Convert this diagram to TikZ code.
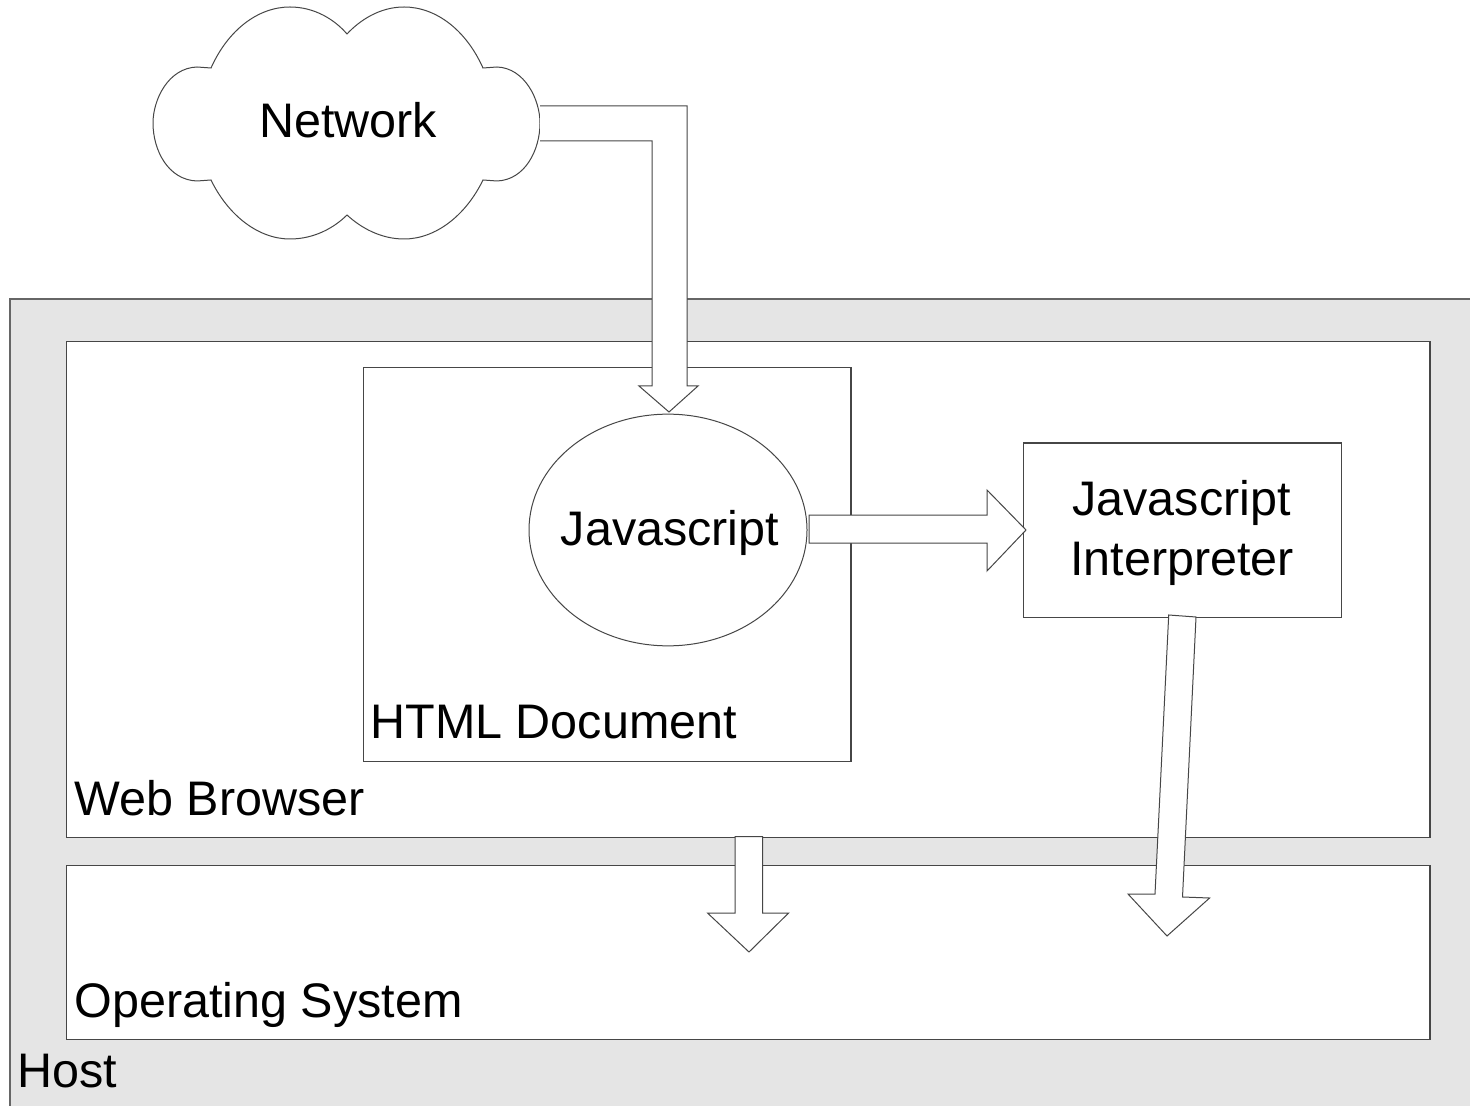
\documentclass[tikz,border=0pt]{standalone}
\usepackage{fontspec}
\setmainfont{Liberation Sans}
\usetikzlibrary{shapes.geometric}
\definecolor{hostgray}{RGB}{229,229,229}
\definecolor{edge}{RGB}{70,70,70}
\begin{document}
\begin{tikzpicture}[x=0.5pt,y=-0.5pt,
  container/.style={draw=edge, line width=0.7pt, anchor=north west, inner sep=0pt},
  whitebox/.style={container, fill=white},
  blockarrow/.style={draw=edge, line width=0.5pt, fill=white, line join=miter},
  lbl/.style={inner sep=0pt, font=\fontsize{24.25pt}{30pt}\selectfont},
]
\useasboundingbox (0,0) rectangle (1470,1106);
\clip (0,0) rectangle (1470,1106);

% Host
\node[container, fill=hostgray, draw=black!60, line width=1pt,
      minimum width=740pt, minimum height=420pt] (host) at (9.3,298) {};
% Web browser
\node[whitebox, minimum width=681.65pt, minimum height=247.85pt] (web) at (66,341) {};
% Operating system
\node[whitebox, minimum width=681.65pt, minimum height=86.75pt] (os) at (66,865) {};
% HTML document
\node[whitebox, minimum width=243.85pt, minimum height=197pt] (html) at (362.6,366.7) {};
% Interpreter
\node[whitebox, minimum width=159.05pt, minimum height=87.2pt] (interp) at (1022.7,442.3) {};
% Javascript ellipse
\node[ellipse, draw=edge, line width=0.5pt, fill=white, inner sep=0pt,
      minimum width=139pt, minimum height=115.85pt] (js) at (668,530) {};

% Cloud
\draw[draw=edge, line width=0.5pt, fill=white]
  (211,68) .. controls (228,30) and (258,7) .. (290,7)
  .. controls (315,7) and (335,20) .. (347,34)
  .. controls (360,20) and (380,7) .. (404,7)
  .. controls (436,7) and (466,30) .. (483,68)
  -- (497,67) .. controls (525,68) and (540,100) .. (540,123)
  .. controls (540,150) and (525,180) .. (497,181) -- (483,180)
  .. controls (466,215) and (436,239) .. (404,239)
  .. controls (380,239) and (360,227) .. (347,215)
  .. controls (335,227) and (315,239) .. (290,239)
  .. controls (258,239) and (228,215) .. (211,180)
  -- (197,181) .. controls (168,180) and (153,150) .. (153,123)
  .. controls (153,100) and (168,68) .. (197,67) -- cycle;
\node[lbl, anchor=base] (net) at (348,138) {Network};

% Block arrows
\coordinate (netout) at (540,106);
\draw[blockarrow] (netout) -- (687,106) -- (687,386) -- (698,386) -- (669,412)
  -- (639,386) -- (652,386) -- (652,141) -- (540,141);
\coordinate (jsout) at (809,515);
\draw[blockarrow] (jsout) -- (987,515) -- (987,490) -- (1026,530) -- (987,571)
  -- (987,543) -- (809,543) -- cycle;
\coordinate (webout) at (735,836.7);
\draw[blockarrow] (webout) -- (735,913) -- (707.5,913) -- (749,952) -- (788.6,913)
  -- (762.5,913) -- (762.5,836.7) -- cycle;
\coordinate (interpout) at (1168.7,615);
\draw[blockarrow] (interpout) -- (1155,894) -- (1128,894) -- (1167,936) -- (1209.6,898)
  -- (1182.5,897) -- (1196,617) -- cycle;

% Labels
\node[lbl, anchor=base] (jslbl) at (670,545.7) {Javascript};
\node[lbl, anchor=base] (interpA) at (1181.5,515) {Javascript};
\node[lbl, anchor=base] (interpB) at (1182,575) {Interpreter};
\node[lbl, anchor=base west] (htmllbl) at (370,738) {HTML Document};
\node[lbl, anchor=base west] (weblbl) at (74,815) {Web Browser};
\node[lbl, anchor=base west] (oslbl) at (74,1017) {Operating System};
\node[lbl, anchor=base west] (hostlbl) at (17,1087) {Host};
\end{tikzpicture}
\end{document}
